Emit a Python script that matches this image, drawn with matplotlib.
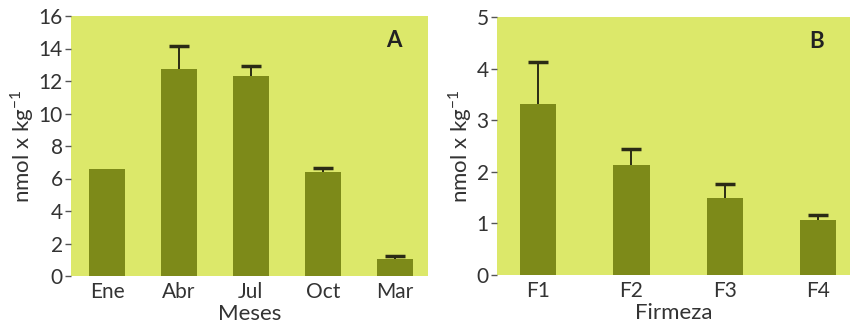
import numpy as np
import matplotlib.pyplot as plt

# Panel A - months
meses = ["Ene", "Abr", "Jul", "Oct", "Mar"]
valores_a = [6.6, 12.75, 12.3, 6.4, 1.07]
error_a = [0.0, 1.42, 0.64, 0.23, 0.16]

# Panel B - firmness
firmeza = ["F1", "F2", "F3", "F4"]
valores_b = [3.32, 2.14, 1.49, 1.06]
error_b = [0.81, 0.31, 0.28, 0.10]

bg = "#dce86a"
bar_color = "#7d8a19"
err_color = "#2b2b15"

plt.rcParams["font.family"] = ["Lato", "DejaVu Sans"]

fig = plt.figure(figsize=(8.5, 3.29), dpi=100)
ax1 = fig.add_axes([71 / 850, 1 - 276 / 329, (428 - 71) / 850, 260 / 329])
ax2 = fig.add_axes([497 / 850, 1 - 275 / 329, (850 - 497) / 850, 258 / 329])


def draw(ax, cats, vals, errs, width, ylim, yticks, xlim, xlabel, tag):
    ax.set_facecolor(bg)
    x = np.arange(len(cats))
    vals = np.array(vals)
    errs = np.array(errs)
    ax.bar(x, vals, width=width, color=bar_color, zorder=2)
    # upper error bars only
    m = errs > 0
    eb = ax.errorbar(x[m], vals[m], yerr=[np.zeros(m.sum()), errs[m]], fmt="none",
                     ecolor=err_color, elinewidth=1.4, capsize=7, capthick=2.5, zorder=1)
    eb[1][0].set_visible(False)
    ax.set_xlim(*xlim)
    ax.set_ylim(*ylim)
    ax.set_yticks(yticks)
    ax.set_xticks(x)
    ax.set_xticklabels(cats)
    for s in ax.spines.values():
        s.set_visible(False)
    ax.tick_params(axis="y", length=4, width=1, color="#555555", pad=2,
                   labelsize=15, labelcolor="#333333")
    ax.tick_params(axis="x", length=0, pad=4, labelsize=15, labelcolor="#333333")
    ax.set_xlabel(xlabel, fontsize=16, color="#333333", labelpad=2)
    ax.set_ylabel("nmol x kg$^{\\mathregular{-1}}$", fontsize=16, color="#333333", labelpad=2)
    ax.text(0.905, 0.905, tag, transform=ax.transAxes, fontsize=16,
            fontweight="bold", ha="center", va="center", color="#222222")


draw(ax1, meses, valores_a, error_a, 0.51, (0, 16), range(0, 17, 2),
     (-0.5, 4.46), "Meses", "A")
draw(ax2, firmeza, valores_b, error_b, 0.39, (0, 5), range(0, 6),
     (-0.44, 3.34), "Firmeza", "B")

fig.savefig("out.png", dpi=100)
